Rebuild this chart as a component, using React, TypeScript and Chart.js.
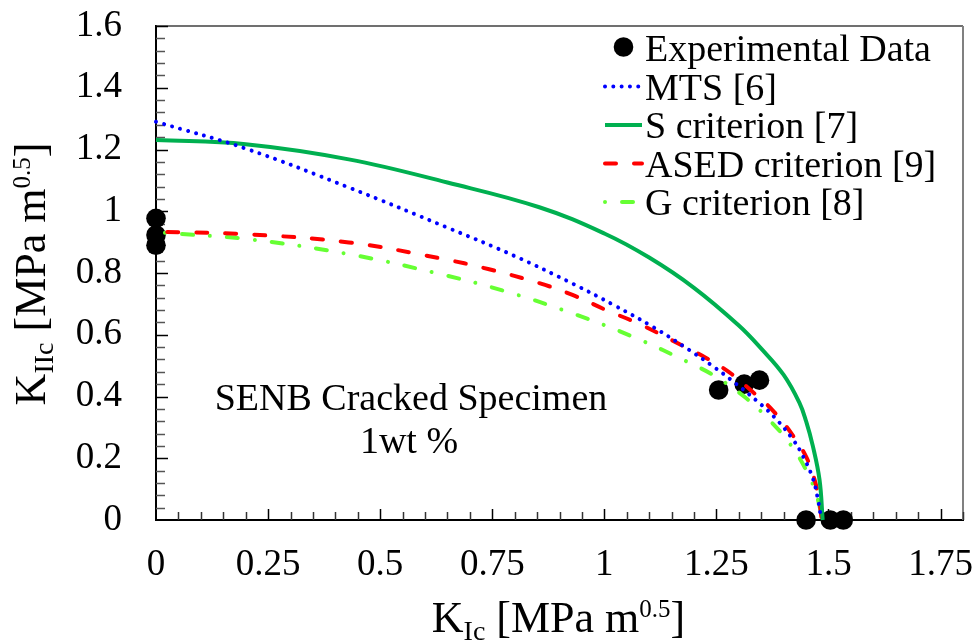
import React, { useEffect, useRef } from 'react';
import { Chart, registerables } from 'chart.js';

Chart.register(...registerables);

const FONT = "'Liberation Serif', 'Times New Roman', Times, serif";

// Tick labels
const xTickValues = [0, 0.25, 0.5, 0.75, 1, 1.25, 1.5, 1.75];
const xTickLabels = ['0', '0.25', '0.5', '0.75', '1', '1.25', '1.5', '1.75'];
const yTickValues = [0, 0.2, 0.4, 0.6, 0.8, 1, 1.2, 1.4, 1.6];
const yTickLabels = ['0', '0.2', '0.4', '0.6', '0.8', '1', '1.2', '1.4', '1.6'];

// Experimental data
const expX = [0, 0, 0, 1.255, 1.312, 1.346, 1.45, 1.504, 1.533];
const expY = [0.977, 0.923, 0.89, 0.421, 0.44, 0.453, 0, 0, 0];

// MTS [6]
const mtsX = [0, 0.2, 0.43, 0.65, 0.8, 0.93, 1.02, 1.11, 1.19, 1.24, 1.28, 1.34, 1.38, 1.42, 1.443, 1.465, 1.476, 1.484];
const mtsY = [1.29, 1.203, 1.077, 0.947, 0.855, 0.765, 0.697, 0.624, 0.55, 0.5, 0.457, 0.386, 0.332, 0.262, 0.207, 0.135, 0.07, 0];

// S criterion [7]
const sX = [0, 0.2, 0.43, 0.65, 0.855, 1.0, 1.1, 1.2, 1.3, 1.35, 1.4, 1.435, 1.45, 1.465, 1.48, 1.487];
const sY = [1.231, 1.217, 1.168, 1.093, 1.013, 0.928, 0.85, 0.752, 0.63, 0.555, 0.47, 0.38, 0.32, 0.24, 0.13, 0];

// ASED criterion [9]
const asedX = [0.025, 0.208, 0.43, 0.632, 0.743, 0.855, 0.929, 1.004, 1.078, 1.174, 1.227, 1.279, 1.33, 1.375, 1.42, 1.45, 1.469, 1.48, 1.485];
const asedY = [0.933, 0.925, 0.899, 0.848, 0.812, 0.767, 0.729, 0.68, 0.635, 0.565, 0.525, 0.478, 0.416, 0.356, 0.275, 0.205, 0.13, 0.054, 0];

// G criterion [8]
const gX = [0.02, 0.208, 0.43, 0.624, 0.781, 0.929, 1.063, 1.197, 1.249, 1.316, 1.368, 1.413, 1.45, 1.472, 1.487];
const gY = [0.93, 0.909, 0.861, 0.8, 0.74, 0.669, 0.594, 0.504, 0.464, 0.395, 0.324, 0.249, 0.162, 0.087, 0];

const toPts = (xs: number[], ys: number[]) => xs.map((x, i) => ({ x, y: ys[i] }));

type Part = { text: string; size: number; dy: number };

function drawRich(ctx: CanvasRenderingContext2D, parts: Part[], cx: number, baseY: number) {
  let total = 0;
  const widths = parts.map((p) => {
    ctx.font = `${p.size}px ${FONT}`;
    const w = ctx.measureText(p.text).width;
    total += w;
    return w;
  });
  let x = cx - total / 2;
  parts.forEach((p, i) => {
    ctx.font = `${p.size}px ${FONT}`;
    ctx.fillText(p.text, x, baseY + p.dy);
    x += widths[i];
  });
}

const zeroPad = (s: any) => {
  s.paddingTop = 0;
  s.paddingBottom = 0;
  s.paddingLeft = 0;
  s.paddingRight = 0;
};

const decorPlugin = {
  id: 'decor',
  beforeDatasetsDraw(chart: any) {
    const { ctx, chartArea: a, scales } = chart;
    const xs = scales.x;
    const ys = scales.y;
    ctx.save();
    ctx.lineCap = 'butt';
    ctx.strokeStyle = '#404040';
    ctx.lineWidth = 1.5;
    ctx.beginPath();
    ctx.moveTo(a.left, a.top);
    ctx.lineTo(a.right, a.top);
    ctx.stroke();
    ctx.strokeStyle = '#808080';
    ctx.lineWidth = 2;
    ctx.beginPath();
    ctx.moveTo(a.right, a.top);
    ctx.lineTo(a.right, a.bottom);
    ctx.stroke();
    ctx.lineWidth = 1.5;
    for (let i = 1; i <= 36; i++) {
      const px = Math.round(xs.getPixelForValue(i * 0.05)) + 0.5;
      const major = i % 5 === 0;
      ctx.strokeStyle = major ? '#000' : '#333';
      ctx.beginPath();
      ctx.moveTo(px, a.bottom);
      ctx.lineTo(px, a.bottom - (major ? 11 : 8));
      ctx.stroke();
    }
    for (let i = 1; i <= 40; i++) {
      const py = Math.round(ys.getPixelForValue(i * 0.04)) + 0.5;
      const major = i % 5 === 0;
      ctx.strokeStyle = major ? '#000' : '#555';
      ctx.beginPath();
      ctx.moveTo(a.left, py);
      ctx.lineTo(a.left + (major ? 12 : 9), py);
      ctx.stroke();
    }
    ctx.restore();
  },
  afterDraw(chart: any) {
    const { ctx, chartArea: a } = chart;
    ctx.save();
    ctx.fillStyle = '#000';
    ctx.textBaseline = 'alphabetic';

    // Legend
    const datasets = chart.data.datasets;
    datasets.forEach((ds: any, i: number) => {
      const base = a.top + 35 + 38.5 * i;
      const sx0 = a.right - 360;
      const sx1 = a.right - 321;
      if (!ds.showLine) {
        ctx.beginPath();
        ctx.fillStyle = ds.backgroundColor;
        ctx.arc((sx0 + sx1) / 2 + 1, base - 14, ds.pointRadius, 0, Math.PI * 2);
        ctx.fill();
      } else {
        ctx.save();
        ctx.strokeStyle = ds.borderColor;
        ctx.lineWidth = ds.borderWidth;
        ctx.lineCap = ds.borderCapStyle || 'butt';
        ctx.setLineDash(ds.borderDash || []);
        ctx.beginPath();
        ctx.moveTo(sx0 + 2, base - 13);
        ctx.lineTo(sx1, base - 13);
        ctx.stroke();
        ctx.restore();
      }
      ctx.fillStyle = '#000';
      ctx.font = `38px ${FONT}`;
      ctx.textAlign = 'left';
      ctx.fillText(ds.label, a.right - 318, base);
    });

    // Annotation
    ctx.textAlign = 'center';
    ctx.font = `38px ${FONT}`;
    ctx.fillText('SENB Cracked Specimen', a.left + 255, a.top + 384);
    ctx.fillText('1wt %', a.left + 253, a.top + 427);

    // Axis titles
    ctx.textAlign = 'left';
    drawRich(
      ctx,
      [
        { text: 'K', size: 44, dy: 0 },
        { text: 'Ic', size: 28, dy: 8 },
        { text: ' [MPa m', size: 44, dy: 0 },
        { text: '0.5', size: 25, dy: -15 },
        { text: ']', size: 44, dy: 0 },
      ],
      558.5,
      632
    );
    ctx.save();
    ctx.translate(45, 274);
    ctx.rotate(-Math.PI / 2);
    drawRich(
      ctx,
      [
        { text: 'K', size: 44, dy: 0 },
        { text: 'IIc', size: 28, dy: 8 },
        { text: ' [MPa m', size: 44, dy: 0 },
        { text: '0.5', size: 25, dy: -15 },
        { text: ']', size: 44, dy: 0 },
      ],
      0,
      0
    );
    ctx.restore();
    ctx.restore();
  },
};

export default function App() {
  const canvasRef = useRef<HTMLCanvasElement | null>(null);

  useEffect(() => {
    document.body.style.margin = '0';
    const canvas = canvasRef.current;
    if (!canvas) return;

    const tickFont = { family: FONT, size: 37 };

    const lineBase = {
      showLine: true,
      pointRadius: 0,
      pointHoverRadius: 0,
      borderWidth: 4,
      borderJoinStyle: 'round',
      tension: 0.4,
      cubicInterpolationMode: 'default',
      fill: false,
      clip: false,
    };

    const chart = new Chart(canvas, {
      type: 'scatter',
      data: {
        datasets: [
          {
            label: 'Experimental Data',
            data: toPts(expX, expY),
            showLine: false,
            pointRadius: 9.8,
            pointHoverRadius: 9.8,
            backgroundColor: '#000',
            borderWidth: 0,
            pointBorderWidth: 0,
            clip: false,
            order: 5,
          },
          {
            ...lineBase,
            label: 'MTS [6]',
            data: toPts(mtsX, mtsY),
            borderColor: '#0000ff',
            borderCapStyle: 'round',
            borderDash: [0.01, 8.3],
            order: 0,
          },
          {
            ...lineBase,
            label: 'S criterion [7]',
            data: toPts(sX, sY),
            borderColor: '#00b050',
            borderCapStyle: 'butt',
            borderDash: [],
            order: 1,
          },
          {
            ...lineBase,
            label: 'ASED criterion [9]',
            data: toPts(asedX, asedY),
            borderColor: '#ff0000',
            borderCapStyle: 'round',
            borderDash: [11, 18],
            order: 2,
          },
          {
            ...lineBase,
            label: 'G criterion [8]',
            data: toPts(gX, gY),
            borderColor: '#66ff33',
            borderCapStyle: 'round',
            borderDash: [0.01, 17, 11, 17],
            order: 3,
          },
        ],
      } as any,
      options: {
        animation: false,
        responsive: false,
        maintainAspectRatio: false,
        events: [],
        layout: { padding: { top: 26, right: 13, left: 0, bottom: 0 } },
        plugins: {
          legend: { display: false },
          tooltip: { enabled: false },
        },
        scales: {
          x: {
            type: 'linear',
            min: 0,
            max: 1.8,
            afterBuildTicks: (s: any) => {
              s.ticks = xTickValues.map((v) => ({ value: v }));
            },
            afterFit: (s: any) => {
              s.height = 121;
              zeroPad(s);
            },
            grid: { display: false, drawTicks: false },
            border: { display: true, color: '#000', width: 2 },
            ticks: {
              font: tickFont,
              color: '#000',
              padding: 23,
              maxRotation: 0,
              minRotation: 0,
              autoSkip: false,
              callback: (v: any) => {
                const i = xTickValues.findIndex((t) => Math.abs(t - Number(v)) < 1e-9);
                return i >= 0 ? xTickLabels[i] : '';
              },
            },
          },
          y: {
            type: 'linear',
            min: 0,
            max: 1.6,
            afterBuildTicks: (s: any) => {
              s.ticks = yTickValues.map((v) => ({ value: v }));
            },
            afterFit: (s: any) => {
              s.width = 156;
              zeroPad(s);
            },
            grid: { display: false, drawTicks: false },
            border: { display: true, color: '#000', width: 2 },
            ticks: {
              font: tickFont,
              color: '#000',
              padding: 34,
              autoSkip: false,
              callback: (v: any) => {
                const i = yTickValues.findIndex((t) => Math.abs(t - Number(v)) < 1e-9);
                return i >= 0 ? yTickLabels[i] : '';
              },
            },
          },
        },
      } as any,
      plugins: [decorPlugin as any],
    });

    return () => chart.destroy();
  }, []);

  return (
    <div style={{ width: 976, height: 641, position: 'relative', background: '#fff' }}>
      <canvas ref={canvasRef} width={976} height={641} style={{ display: 'block', width: 976, height: 641 }} />
    </div>
  );
}
